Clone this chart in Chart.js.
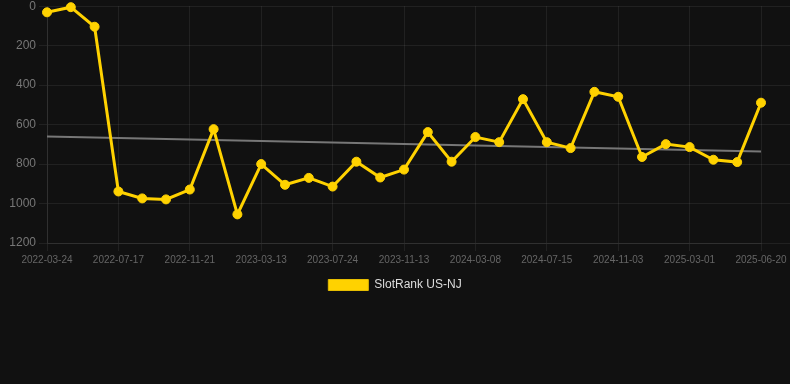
<!DOCTYPE html>
<html>
<head>
<meta charset="utf-8">
<script src="https://cdn.jsdelivr.net/npm/chart.js@4"></script>
<style>
  html, body { margin: 0; padding: 0; background: #111111; overflow: hidden; }
  #wrap { width: 790px; height: 305px; position: relative; margin-top: -4px; }
</style>
</head>
<body>
<div id="wrap"><canvas id="rankChart"></canvas></div>
<script>
// dates (only every third one is shown on the axis)
const dates = [
  '2022-03-24','2022-05-01','2022-06-09','2022-07-17','2022-08-28','2022-10-10',
  '2022-11-21','2022-12-28','2023-02-04','2023-03-13','2023-04-25','2023-06-10',
  '2023-07-24','2023-08-31','2023-10-07','2023-11-13','2023-12-21','2024-01-29',
  '2024-03-08','2024-04-20','2024-06-02','2024-07-15','2024-08-22','2024-09-28',
  '2024-11-03','2024-12-12','2025-01-20','2025-03-01','2025-04-07','2025-05-14',
  '2025-06-20'
];
const ranks = [
  31, 5, 104, 939, 974, 979, 929, 623, 1055, 800, 905, 870, 914, 788, 868, 828,
  638, 788, 663, 689, 471, 689, 719, 434, 459, 764, 699, 714, 778, 790, 489
];
// trend line: first and last point only
const trendStart = 660;
const trendEnd = 736;
const yTicks = [0, 200, 400, 600, 800, 1000, 1200];

const trend = dates.map((d, i) => i === 0 ? trendStart : (i === dates.length - 1 ? trendEnd : null));
const gridColor = 'rgba(255,255,255,0.07)';

new Chart(document.getElementById('rankChart'), {
  type: 'line',
  data: {
    labels: dates,
    datasets: [{
      label: 'SlotRank US-NJ',
      data: ranks,
      borderColor: '#ffd200',
      backgroundColor: '#ffd200',
      borderWidth: 3,
      pointRadius: 4.5,
      pointBorderWidth: 1,
      pointHoverRadius: 4.5,
      pointBackgroundColor: '#ffd200',
      pointBorderColor: '#ffd200',
      tension: 0,
      clip: false
    }, {
      label: 'trend',
      data: trend,
      spanGaps: true,
      borderColor: '#777777',
      borderWidth: 2,
      pointRadius: 0,
      tension: 0
    }]
  },
  options: {
    responsive: true,
    maintainAspectRatio: false,
    animation: false,
    scales: {
      x: {
        grid: { color: gridColor },
        border: { color: gridColor },
        ticks: {
          color: '#666',
          font: { size: 10 },
          autoSkip: false,
          maxRotation: 0,
          callback: function (v, i) { return i % 3 === 0 ? dates[i] : null; }
        }
      },
      y: {
        reverse: true,
        min: yTicks[0],
        max: yTicks[yTicks.length - 1],
        afterFit: s => { s.width = 47; },
        grid: { color: gridColor },
        border: { color: gridColor },
        ticks: { color: '#777', font: { size: 12 }, stepSize: 200, callback: v => String(v) }
      },
      y2: {
        position: 'right',
        reverse: true,
        min: yTicks[0],
        max: yTicks[yTicks.length - 1],
        grid: { color: gridColor, drawOnChartArea: false, tickLength: 29 },
        border: { display: false },
        ticks: { display: false, stepSize: 200 }
      }
    },
    plugins: {
      legend: {
        position: 'bottom',
        labels: {
          color: '#dddddd',
          font: { size: 12 },
          boxWidth: 40,
          boxHeight: 11,
          generateLabels: chart => Chart.defaults.plugins.legend.labels.generateLabels(chart)
            .filter(item => item.datasetIndex === 0)
            .map(item => Object.assign(item, { lineWidth: 1, strokeStyle: '#e6bd00' }))
        }
      },
      tooltip: { enabled: false }
    }
  }
});
</script>
</body>
</html>
